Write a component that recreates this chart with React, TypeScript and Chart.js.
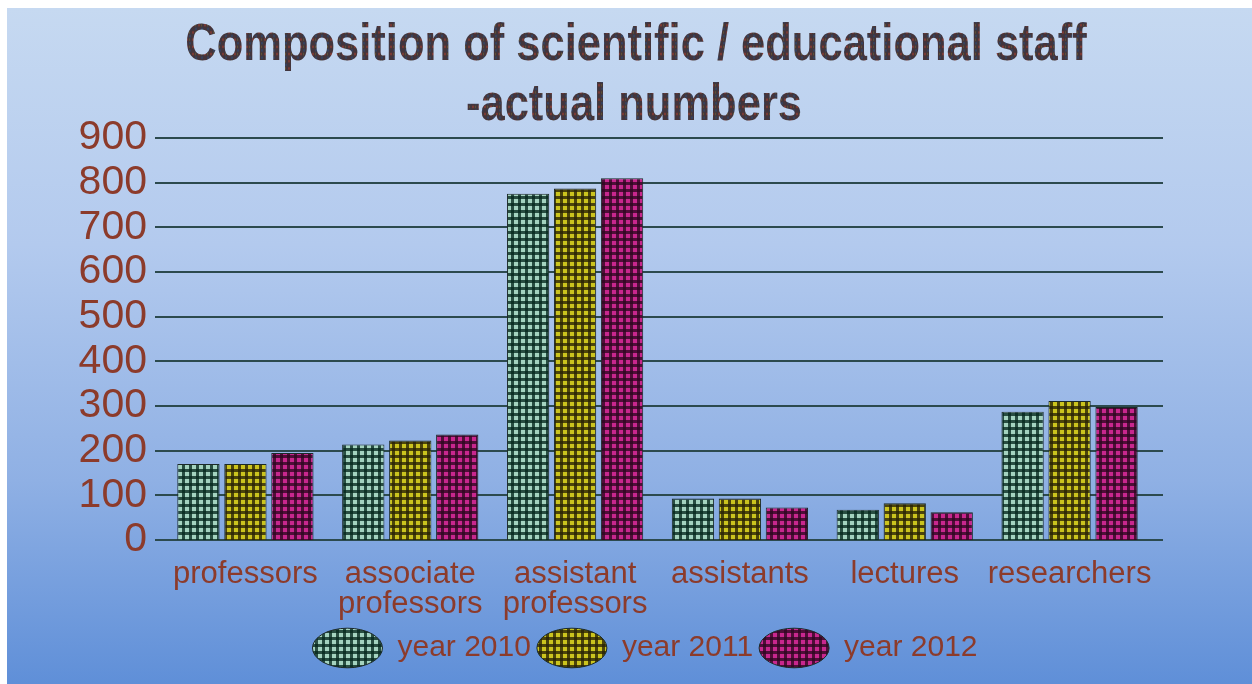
import React, { useEffect, useRef } from 'react';
import { Chart, registerables } from 'chart.js';

Chart.register(...registerables);

const titleLines = ['Composition of scientific / educational staff', '-actual numbers'];
const categories = [
  ['professors'],
  ['associate', 'professors'],
  ['assistant', 'professors'],
  ['assistants'],
  ['lectures'],
  ['researchers'],
];
const seriesNames = ['year 2010', 'year 2011', 'year 2012'];
const values2010 = [170, 214, 775, 93, 68, 287];
const values2011 = [170, 223, 787, 93, 82, 311];
const values2012 = [195, 236, 810, 73, 62, 298];
const yMin = 0;
const yMax = 900;
const yStep = 100;

const BROWN = '#8c3b2b';
const SANS = '"Liberation Sans", Arial, sans-serif';

function makePlaid(base: string, line: string): CanvasPattern | string {
  const c = document.createElement('canvas');
  c.width = 7;
  c.height = 7;
  const g = c.getContext('2d');
  if (!g) return base;
  g.fillStyle = base;
  g.fillRect(0, 0, 7, 7);
  g.fillStyle = line;
  g.fillRect(0, 0, 3, 7);
  g.fillRect(0, 0, 7, 3);
  g.fillRect(0, 0, 3, 3);
  const p = g.createPattern(c, 'repeat');
  return p || base;
}

function makeTitleFill(ctx: CanvasRenderingContext2D): CanvasPattern | string {
  const c = document.createElement('canvas');
  c.width = 6;
  c.height = 6;
  const g = c.getContext('2d');
  if (!g) return '#4a3a40';
  g.fillStyle = '#43353c';
  g.fillRect(0, 0, 6, 6);
  g.fillStyle = '#7a3a34';
  g.fillRect(0, 0, 2, 2);
  g.fillStyle = '#35425e';
  g.fillRect(3, 3, 2, 2);
  g.fillStyle = '#5e5236';
  g.fillRect(3, 0, 1, 2);
  const p = ctx.createPattern(c, 'repeat');
  return p || '#4a3a40';
}

const backgroundPlugin = {
  id: 'panelBackground',
  beforeDraw(chart: any) {
    const { ctx, width, height } = chart;
    ctx.save();
    ctx.fillStyle = '#ffffff';
    ctx.fillRect(0, 0, width, height);
    const grad = ctx.createLinearGradient(0, 8, 0, height);
    grad.addColorStop(0, '#c6d9f1');
    grad.addColorStop(0.35, '#b3caee');
    grad.addColorStop(0.7, '#8fb0e4');
    grad.addColorStop(1, '#5f8fd8');
    ctx.fillStyle = grad;
    ctx.fillRect(7, 8, width - 7, height - 8);
    ctx.restore();
  },
};

const titlePlugin = {
  id: 'stretchedTitle',
  afterDraw(chart: any) {
    const { ctx } = chart;
    ctx.save();
    ctx.font = 'bold 43.5px ' + SANS;
    ctx.textAlign = 'center';
    ctx.textBaseline = 'alphabetic';
    ctx.fillStyle = makeTitleFill(ctx);
    const baselines = [60, 120];
    const centers = [636, 634];
    titleLines.forEach((line, i) => {
      ctx.save();
      ctx.translate(centers[i], baselines[i]);
      ctx.scale(1, 1.2);
      ctx.fillText(line, 0, 0);
      ctx.restore();
    });
    ctx.restore();
  },
};

const gridPlugin = {
  id: 'wideGrid',
  beforeDatasetsDraw(chart: any) {
    const { ctx, chartArea, scales } = chart;
    const y = scales.y;
    ctx.save();
    ctx.strokeStyle = '#2c4a4e';
    ctx.lineWidth = 2;
    y.ticks.forEach((t: any) => {
      const py = Math.round(y.getPixelForValue(t.value));
      ctx.beginPath();
      ctx.moveTo(chartArea.left - 8, py);
      ctx.lineTo(chartArea.right + 11, py);
      ctx.stroke();
    });
    ctx.restore();
  },
};

export default function App() {
  const ref = useRef<HTMLCanvasElement | null>(null);

  useEffect(() => {
    if (!ref.current) return;
    const fills = [
      makePlaid('#a4d3bf', 'rgba(12,48,36,0.82)'),
      makePlaid('#cbc41e', 'rgba(48,42,6,0.82)'),
      makePlaid('#c8278e', 'rgba(52,8,36,0.82)'),
    ];
    const seriesValues = [values2010, values2011, values2012];
    const chart = new Chart(ref.current, {
      type: 'bar',
      data: {
        labels: categories,
        datasets: seriesNames.map((name, i) => ({
          label: name,
          data: seriesValues[i],
          backgroundColor: fills[i] as any,
          borderColor: '#1c2a28',
          borderWidth: 1,
          categoryPercentage: 0.855,
          barPercentage: 0.9,
        })),
      },
      options: {
        animation: false,
        responsive: false,
        devicePixelRatio: 1,
        layout: { padding: { left: 38, right: 0, top: 138, bottom: 11 } },
        plugins: {
          title: { display: false },
          legend: {
            display: true,
            position: 'bottom',
            labels: {
              usePointStyle: true,
              pointStyle: 'circle',
              pointStyleWidth: 70,
              boxHeight: 28,
              padding: 6,
              color: BROWN,
              font: { family: SANS, size: 30 },
            },
          },
          tooltip: { enabled: false },
        },
        scales: {
          x: {
            grid: { display: false, drawTicks: false },
            border: { display: false },
            ticks: {
              color: BROWN,
              font: { family: SANS, size: 31, lineHeight: 0.97 },
              padding: 19,
              maxRotation: 0,
              autoSkip: false,
            },
            afterFit(scale: any) {
              scale.height = 87;
            },
          },
          y: {
            min: yMin,
            max: yMax,
            grid: { display: false, drawTicks: false },
            border: { display: false },
            ticks: {
              stepSize: yStep,
              color: BROWN,
              font: { family: SANS, size: 41, lineHeight: 1 },
              padding: 16,
              autoSkip: false,
            },
            afterFit(scale: any) {
              scale.width = 125;
            },
          },
          spacer: {
            type: 'linear',
            position: 'right',
            display: true,
            grid: { display: false, drawTicks: false },
            border: { display: false },
            ticks: { display: false },
            afterFit(scale: any) {
              scale.width = 100;
            },
          },
        },
      },
      plugins: [backgroundPlugin, gridPlugin, titlePlugin],
    });
    return () => chart.destroy();
  }, []);

  return (
    <canvas
      ref={ref}
      width={1252}
      height={684}
      style={{ position: 'absolute', left: 0, top: 0, width: 1252, height: 684, display: 'block' }}
    />
  );
}
